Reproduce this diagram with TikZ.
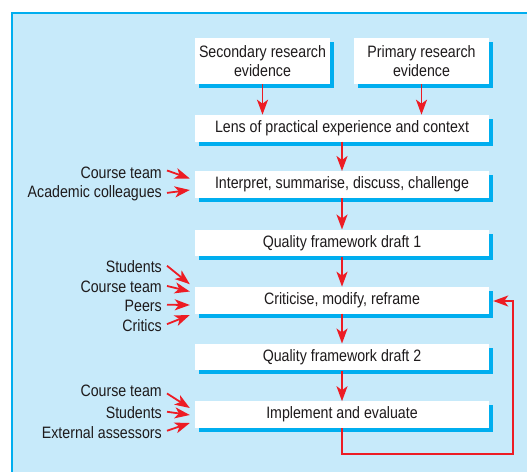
\documentclass[tikz,border=0pt]{standalone}
\usepackage{fontspec}
\setmainfont{Liberation Sans}[FakeStretch=0.86]
\usetikzlibrary{arrows.meta,calc}
\definecolor{bgblue}{RGB}{199,234,250}
\definecolor{cyanline}{RGB}{0,174,239}
\definecolor{arrowred}{RGB}{237,28,36}
\definecolor{txt}{RGB}{30,27,28}
\tikzset{
  box/.style={fill=white, inner sep=0pt, text=txt, align=center,
    minimum width=294pt, minimum height=26.6pt,
    preaction={fill=cyanline, transform canvas={xshift=4pt,yshift=-4pt}}},
  topbox/.style={box, minimum width=135pt, minimum height=46.3pt},
  lbl/.style={anchor=mid east, inner sep=0pt, text=txt},
  arr/.style={draw=arrowred, line width=1.8pt, -{Stealth[length=15pt,width=11pt,inset=4pt]}},
}
\begin{document}
\begin{tikzpicture}[x=1pt,y=-1pt, font=\fontsize{16.5}{19}\selectfont]
\useasboundingbox (0,0) rectangle (527,471);
\clip (0,0) rectangle (527,471);
\draw[fill=bgblue, draw=cyanline, line width=1.5pt] (12,12.8) rectangle (560,500);

\node[topbox] (sec) at (262.5,60.75) {Secondary research\\evidence};
\node[topbox] (pri) at (421.5,60.75) {Primary research\\evidence};
\node[box] (lens) at (342,128.2) {Lens of practical experience and context};
\node[box] (interp) at (342,184.5) {Interpret, summarise, discuss, challenge};
\node[box] (qf1) at (342,243) {Quality framework draft 1};
\node[box] (crit) at (342,300.2) {Criticise, modify, reframe};
\node[box] (qf2) at (342,357) {Quality framework draft 2};
\node[box] (impl) at (342,414.7) {Implement and evaluate};

\node[lbl] (l1) at (162,176) {Course team};
\node[lbl] (l2) at (162,195) {Academic colleagues};
\node[lbl] (l3) at (162,270) {Students};
\node[lbl] (l4) at (162,290) {Course team};
\node[lbl] (l5) at (162,309) {Peers};
\node[lbl] (l6) at (162,328.5) {Critics};
\node[lbl] (l7) at (162,394) {Course team};
\node[lbl] (l8) at (162,416) {Students};
\node[lbl] (l9) at (162,436) {External assessors};

\draw[arr] (sec.south) -- (sec.south |- lens.north);
\draw[arr] (pri.south) -- (pri.south |- lens.north);
\draw[arr] (lens.south) -- (interp.north);
\draw[arr] (interp.south) -- (qf1.north);
\draw[arr] (qf1.south) -- (crit.north);
\draw[arr] (crit.south) -- (qf2.north);
\draw[arr] (qf2.south) -- (impl.north);

\coordinate (loop) at (513,454.2);
\draw[arr] (impl.south) |- (loop) |- ($(crit.east)+(4,0.8)$);

\draw[arr] ($(l1.east)+(5,-2.5)$) -- ($(interp.west)+(-5,-6)$);
\draw[arr] ($(l2.east)+(5,-0.5)$) -- ($(interp.west)+(-5,5.5)$);
\draw[arr] ($(l3.east)+(5,-1)$) -- ($(crit.west)+(-5,-16)$);
\draw[arr] ($(l4.east)+(5,-1)$) -- ($(crit.west)+(-5,-8.7)$);
\draw[arr] ($(l5.east)+(5,-1.3)$) -- ($(crit.west)+(-5,4.8)$);
\draw[arr] ($(l6.east)+(5,-1.1)$) -- ($(crit.west)+(-5,14.8)$);
\draw[arr] ($(l7.east)+(5,2.5)$) -- ($(impl.west)+(-5,-6.7)$);
\draw[arr] ($(l8.east)+(5,-1)$) -- ($(impl.west)+(-5,0.3)$);
\draw[arr] ($(l9.east)+(5,-2)$) -- ($(impl.west)+(-5,8.3)$);
\end{tikzpicture}
\end{document}
